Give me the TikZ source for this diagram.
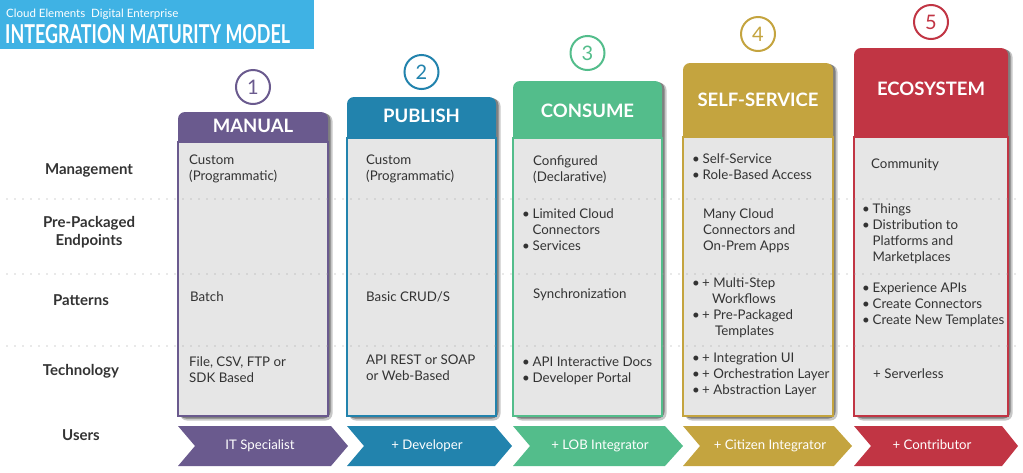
\documentclass[tikz,border=0pt]{standalone}
\usepackage{fontspec}
\usepackage{graphicx}
\setmainfont{Lato}
\definecolor{cpur}{HTML}{6A5A8E}
\definecolor{cblu}{HTML}{2283AD}
\definecolor{cgrn}{HTML}{53BD8B}
\definecolor{cgld}{HTML}{C4A43F}
\definecolor{cred}{HTML}{C13544}
\definecolor{ctitle}{HTML}{3FB2E4}
\definecolor{cbox}{HTML}{E6E6E6}
\definecolor{ctxt}{HTML}{333333}
\newcommand\bul{\makebox[10.5pt][l]{\textbullet}}
\newcommand\bulc{\hspace*{10.5pt}}
\begin{document}
\begin{tikzpicture}[x=1pt,y=-1pt,
 cell/.style={anchor=north west, inner sep=0pt, align=left, text=ctxt, font=\fontsize{13.3}{16}\selectfont},
 rowlab/.style={inner sep=0pt, align=center, text=ctxt, font=\fontsize{15}{18}\selectfont\bfseries},
 caplab/.style={rowlab, text height=10.8pt, text depth=0pt},
 hdrtext/.style={text=white, font=\fontsize{18.5}{20}\selectfont\bfseries, inner sep=0pt, text height=13.3pt, text depth=0pt},
 numcirc/.style={circle, draw=#1, line width=2pt, fill=white, minimum size=34pt, inner sep=0pt, text=#1, font=\fontsize{20}{22}\selectfont, text height=14.4pt, text depth=0pt},
 usertext/.style={text=white, font=\fontsize{13.2}{16}\selectfont, inner sep=0pt, text height=9.5pt, text depth=0pt},
 dotline/.style={draw=gray!75, line width=1.4pt, line cap=round, dash pattern=on 0pt off 8pt},
]
\useasboundingbox (0,0) rectangle (1023,472);
% title
\fill[ctitle] (0,0) rectangle (314,49);
\node[anchor=base west, inner sep=0pt, text=white, font=\fontsize{11.5}{13}\selectfont] (sub) at (6,17) {Cloud Elements\ \ Digital Enterprise};
\node[anchor=base west, inner sep=0pt, text=white] (ttl) at (5,43) {\resizebox{285pt}{19pt}{\bfseries INTEGRATION MATURITY MODEL}};
% columns
\foreach \i/\xa/\xb/\ytop/\ybot/\col/\ttl/\ty/\cy in {
  1/178/328/112/142/cpur/MANUAL/126/87,
  2/347/496/97/138/cblu/PUBLISH/116/72,
  3/513/662/81/138/cgrn/CONSUME/111/53,
  4/683/833/63/137/cgld/SELF-SERVICE/99.5/34,
  5/854/1008/48/137/cred/ECOSYSTEM/88.5/22}{
  \fill[black!22, rounded corners=7pt] (\xa+2,\ytop+2) rectangle (\xb+4.5,420.5);
  \fill[black!50, rounded corners=7pt] (\xa+1,\ytop+1) rectangle (\xb+2.5,418.5);
  \fill[\col, rounded corners=7pt] (\xa,\ytop) rectangle (\xb,\ybot+14);
  \filldraw[fill=cbox, draw=\col, line width=1.5pt] (\xa,\ybot) rectangle (\xb,416);
  \node[hdrtext] (h\i) at ({(\xa+\xb)/2},\ty) {\ttl};
  \node[numcirc=\col] (n\i) at ({(\xa+\xb)/2},\cy) {\i};
}
% users chevrons
\foreach \i/\L/\S/\T/\col/\txt/\tx in {
  1/178/331/348/cpur/IT Specialist/260,
  2/347/495/512/cblu/+ Developer/427,
  3/513/665/683/cgrn/+ LOB Integrator/600,
  4/683/834/852/cgld/+ Citizen Integrator/770,
  5/854/1002/1018/cred/+ Contributor/932}{
  \fill[\col] (\L,426) -- (\S,426) -- (\T,446) -- (\S,466) -- (\L,466) -- (\L+17,446) -- cycle;
  \node[usertext] (u\i) at (\tx,445) {\txt};
}
% row labels
\node[caplab] (l1) at (89,169) {Management};
\node[rowlab] (l2) at (89,232) {Pre-Packaged\\Endpoints};
\node[caplab] (l3) at (81,300) {Patterns};
\node[caplab] (l4) at (81,370) {Technology};
\node[caplab] (l5) at (81,435) {Users};
% dotted separators
\coordinate (d1a) at (7,199);  \coordinate (d1b) at (1015,199);
\coordinate (d2a) at (7,274);  \coordinate (d2b) at (1015,274);
\coordinate (d3a) at (7,346);  \coordinate (d3b) at (1015,346);
\draw[dotline] (d1a) -- (d1b);
\draw[dotline] (d2a) -- (d2b);
\draw[dotline] (d3a) -- (d3b);
% cells column 1
\node[cell] (c11) at (189,155) {Custom\\(Programmatic)};
\node[cell] (c13) at (190,291) {Batch};
\node[cell] (c14) at (189,356) {File, CSV, FTP or\\SDK Based};
% column 2
\node[cell] (c21) at (366,155) {Custom\\(Programmatic)};
\node[cell] (c23) at (366,291) {Basic CRUD/S};
\node[cell] (c24) at (366,355) {API REST or SOAP\\or Web-Based};
% column 3
\node[cell] (c31) at (533,155) {Configured\\(Declarative)};
\node[cell] (c32) at (522,208) {\bul Limited Cloud\\\bulc Connectors\\\bul Services};
\node[cell] (c33) at (533,288) {Synchronization};
\node[cell] (c34) at (522,357) {\bul API Interactive Docs\\\bul Developer Portal};
% column 4
\node[cell] (c41) at (692,153) {\bul Self-Service\\\bul Role-Based Access};
\node[cell] (c42) at (703,208) {Many Cloud\\Connectors and\\On-Prem Apps};
\node[cell] (c43) at (692,277) {\makebox[10pt][l]{\textbullet}+ Multi-Step\\\hspace*{20pt}Workflows\\\makebox[10pt][l]{\textbullet}+ Pre-Packaged\\\hspace*{23pt}Templates};
\node[cell] (c44) at (692,353) {\makebox[10pt][l]{\textbullet}+ Integration UI\\\makebox[10pt][l]{\textbullet}+ Orchestration Layer\\\makebox[10pt][l]{\textbullet}+ Abstraction Layer};
% column 5
\node[cell] (c51) at (871,159) {Community};
\node[cell] (c52) at (862,203) {\bul Things\\\bul Distribution to\\\bulc Platforms and\\\bulc Marketplaces};
\node[cell] (c53) at (862,283) {\bul Experience APIs\\\bul Create Connectors\\\bul Create New Templates};
\node[cell] (c54) at (873,368) {+ Serverless};
\end{tikzpicture}
\end{document}
